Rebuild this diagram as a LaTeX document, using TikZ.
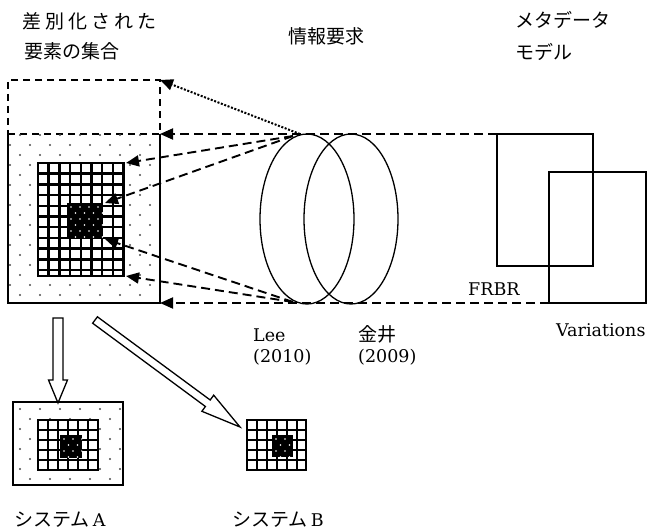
\documentclass[tikz,border=0pt]{standalone}
\usepackage{fontspec}
\newfontfamily\jp{Noto Sans CJK JP}
\newfontfamily\lat{DejaVu Serif}
\usetikzlibrary{arrows.meta,calc,shapes.geometric}
\newcommand\dotsfill[6]{%
  \begin{scope}
    \clip (#1,#2) rectangle (#3,#4);
    \foreach \k in {0,...,20}{%
      \pgfmathsetmacro\yy{#2+#5+10*\k}%
      \pgfmathsetmacro\xs{#1+#6-10*mod(\k,2)}%
      \foreach \j in {0,...,9}{\fill[dotc] ({\xs+20*\j},\yy) circle (1.1pt);}%
    }
  \end{scope}}
\newcommand\gridfill[5]{%
  \fill[white] (#1,#2) rectangle (#3,#4);
  \begin{scope}
    \clip (#1,#2) rectangle (#3,#4);
    \foreach \k in {1,...,12}{%
      \draw[gridline] ({#1+#5*\k},#2) -- ({#1+#5*\k},#4);
      \draw[gridline] (#1,{#2+#5*\k}) -- (#3,{#2+#5*\k});
    }
  \end{scope}
  \draw[gridline] (#1,#2) rectangle (#3,#4);}
\newcommand\darkfill[4]{%
  \fill[black] (#1,#2) rectangle (#3,#4);
  \begin{scope}
    \clip (#1,#2) rectangle (#3,#4);
    \foreach \k in {0,...,7}{%
      \pgfmathsetmacro\yy{#2+4+6*\k}%
      \pgfmathsetmacro\xs{#1+4+4.5*mod(\k,2)}%
      \foreach \j in {0,...,4}{\fill[white] ({\xs+9*\j},\yy) circle (0.9pt);}%
    }
  \end{scope}}
\begin{document}
\begin{tikzpicture}[x=1pt,y=-1pt,
  boxline/.style={draw, line width=1.4pt},
  dotc/.style={fill=black!70},
  gridline/.style={line width=2.5pt},
  dashar/.style={line width=1.9pt, dash pattern=on 9pt off 5pt, -{Triangle[length=13pt,width=11pt]}},
  dotar/.style={line width=2pt, dash pattern=on 2pt off 1.6pt, -{Triangle[length=13pt,width=11pt]}},
  hollow/.style={draw, line width=1.3pt, fill=white, line join=miter},
  jpl/.style={font=\jp\fontsize{19}{22}\selectfont, inner sep=0, text depth=0pt, anchor=base west},
  lat/.style={font=\lat\fontsize{17.5}{21}\selectfont, inner sep=0, text depth=0pt, anchor=base west},
  area/.style={inner sep=0, outer sep=0, anchor=north west},
  venn/.style={ellipse, draw, line width=1.3pt, inner sep=0, minimum width=94, minimum height=170}]
\useasboundingbox (0,0) rectangle (651,529);

% titles
\node[jpl] (t1) at (22,29) {差\kern4pt 別\kern4pt 化\kern4pt さ\kern4pt れ\kern4pt た};
\node[jpl] (t2) at (24,59) {要素の集合};
\node[jpl] (t3) at (288,44) {情報要求};
\node[jpl] (t4) at (515,28) {メタデータ};
\node[jpl] (t5) at (515,60) {モデル};

% named areas
\node[area, minimum width=152, minimum height=169] (outer) at (8,134) {};
\node[area, minimum width=86, minimum height=113] (grid) at (38,163) {};
\node[area, minimum width=36, minimum height=36] (dark) at (67,203) {};
\node[area, draw, line width=1.3pt, dash pattern=on 7pt off 5pt, minimum width=152, minimum height=54] (dbox) at (8,80) {};

% main set
\dotsfill{8}{134}{160}{303}{1}{12}
\gridfill{38}{163}{124}{276}{10.7}
\darkfill{67}{203}{103}{239}
\draw[boxline] (outer.north west) -- (outer.south west) -- (outer.south east) -- (outer.north east);

% system A
\node[area, minimum width=110, minimum height=83] (sa) at (13,402) {};
\dotsfill{13}{402}{123}{485}{7}{7}
\gridfill{38}{420}{98}{470}{10}
\darkfill{60}{435}{82}{458}
\draw[boxline] (sa.north west) rectangle (sa.south east);

% system B
\node[area, minimum width=59, minimum height=50] (sb) at (247,420) {};
\gridfill{247}{420}{306}{470}{10}
\darkfill{272}{435}{293}{457}

% information requirements
\node[venn] (L) at (307,219) {};
\node[venn] (R) at (351,219) {};

% metadata models
\node[area, boxline, minimum width=96, minimum height=132] (frbr) at (497,134) {};
\node[area, boxline, minimum width=97, minimum height=131] (var) at (549,172) {};

% connectors
\coordinate (ct) at (300,134);
\coordinate (cs) at (293,136);
\coordinate (cb) at (293,302);
\draw[dashar] (frbr.north west) -- (outer.north east);
\draw[dashar] (var.south west) -- (outer.south east);
\draw[dotar] (ct) -- (dbox.north east);
\draw[dashar] (cs) -- ($(grid.north east)+(2,0)$);
\draw[dashar] (cs) -- ($(dark.north east)+(2,0)$);
\draw[dashar] (cb) -- ($(dark.south east)+(2,0)$);
\draw[dashar] (cb) -- ($(grid.south east)+(2,0)$);

% hollow arrows
\draw[hollow] (53,318) -- (53,380) -- (48.5,380) -- (58,403) -- (67.5,380) -- (63,380) -- (63,318) -- cycle;
\draw[hollow] (97.4,316.8) -- (210.2,400.0) -- (213.7,395.2) -- (240,427) -- (201.9,411.3) -- (205.4,406.5) -- (92.6,323.2) -- cycle;

% labels
\node[lat] (frbrl) at (468,296) {FRBR};
\node[lat] (varl) at (556,337) {Variations};
\node[lat] (lee) at (253,342) {Lee};
\node[lat] (leey) at (253,363) {(2010)};
\node[jpl] (kanai) at (358,342) {金井};
\node[lat] (kanaiy) at (358,363) {(2009)};
\node[jpl] (sysa) at (14,526) {システム\,{\lat\fontsize{17.5}{21}\selectfont A}};
\node[jpl] (sysb) at (232,526) {システム\,{\lat\fontsize{17.5}{21}\selectfont B}};
\end{tikzpicture}
\end{document}
